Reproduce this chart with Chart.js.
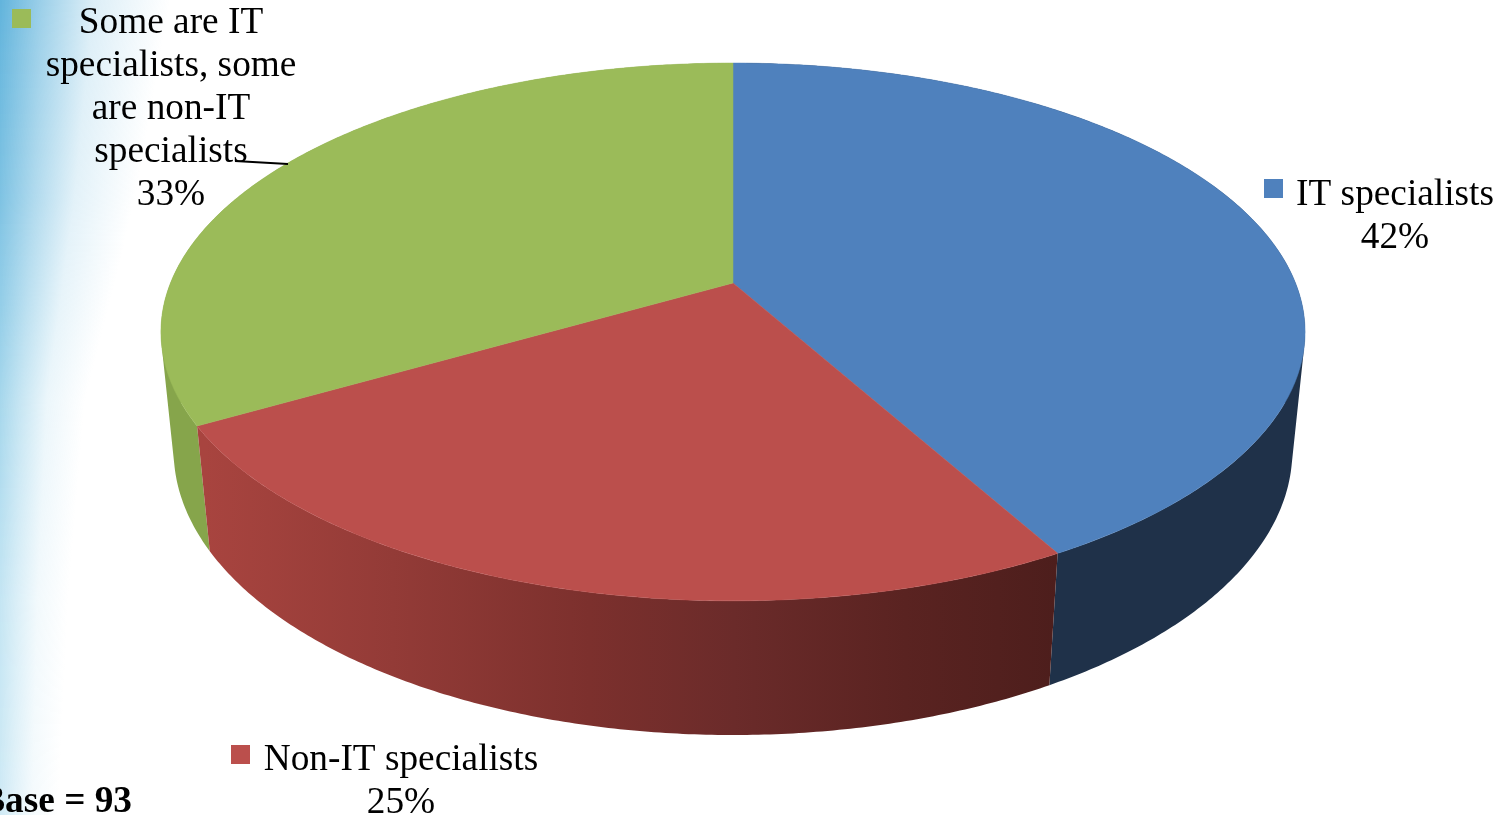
<!DOCTYPE html>
<html>
<head>
<meta charset="utf-8">
<title>IT specialists</title>
<script src="https://cdn.jsdelivr.net/npm/chart.js@4/dist/chart.umd.min.js"></script>
<style>
    html, body { margin: 0; padding: 0; background: #fff; overflow: hidden; }
    canvas { position: absolute; left: 0; top: 0; }
</style>
</head>
<body>
<canvas id="pieChart" width="1508" height="815"></canvas>
<script>
const categories = ['IT specialists', 'Non-IT specialists', 'Some are IT specialists, some are non-IT specialists'];
const counts = [39, 23, 31];
const baseLabel = 'Base = 93';
const labelLines = [['IT specialists'], ['Non-IT specialists'], ['Some are IT', 'specialists, some', 'are non-IT', 'specialists']];
const topColors = ['#4f81bd', '#bb4f4c', '#9bbb59'];

const total = counts.reduce((a, b) => a + b, 0);

// perspective of the disc, fitted to the picture
const apexX = 733, apexY = 283;
const radX = 562.5, radY = 260, tilt = 0.182;
const wallDrop = 119.7, wallTilt = 0.022;

function project(theta, down) {
    const u = Math.sin(theta), v = Math.cos(theta);
    const w = 1 + tilt * v + (down ? wallTilt : 0);
    return {
        x: apexX + radX * u / w,
        y: apexY + (-radY * v + (down ? wallDrop : 0)) / w
    };
}

function wallPaint(ctx, i) {
    if (i === 0) return '#1f3149';
    if (i === 2) return '#86a54b';
    const g = ctx.createLinearGradient(205, 0, 1058, 0);
    g.addColorStop(0, '#a8443f');
    g.addColorStop(0.22, '#933b37');
    g.addColorStop(0.45, '#7c302d');
    g.addColorStop(0.62, '#6b2b2a');
    g.addColorStop(0.82, '#5a2321');
    g.addColorStop(1, '#4d1e1c');
    return g;
}

// template backdrop on the left edge: y, fade width, edge colour
const bandRows = [
    [0, 170, 98, 180, 220],
    [200, 135, 127, 195, 227],
    [400, 85, 166, 215, 236],
    [600, 68, 196, 229, 243],
    [815, 58, 207, 234, 245]
];

function drawBackdrop(ctx) {
    for (let y = 0; y < 815; y += 2) {
        let s = 0;
        while (s < bandRows.length - 2 && y > bandRows[s + 1][0]) s++;
        const a = bandRows[s], b = bandRows[s + 1];
        const f = (y - a[0]) / (b[0] - a[0]);
        const m = k => a[k] + (b[k] - a[k]) * f;
        const rgb = `${Math.round(m(2))},${Math.round(m(3))},${Math.round(m(4))}`;
        const g = ctx.createLinearGradient(0, 0, m(1), 0);
        g.addColorStop(0, `rgba(${rgb},1)`);
        g.addColorStop(0.25, `rgba(${rgb},0.62)`);
        g.addColorStop(0.55, `rgba(${rgb},0.22)`);
        g.addColorStop(1, `rgba(${rgb},0)`);
        ctx.fillStyle = g;
        ctx.fillRect(0, y, m(1), 2);
    }
}

const perspectivePie = {
    id: 'perspectivePie',
    beforeDraw(chart) {
        drawBackdrop(chart.ctx);
    },
    beforeDatasetDraw(chart, args) {
        const ctx = chart.ctx;
        const arcs = chart.getDatasetMeta(args.index).data;
        const step = Math.PI / 360;
        ctx.save();
        // side wall, the red slice last because it is in front
        [0, 2, 1].forEach(i => {
            const a0 = arcs[i].startAngle + Math.PI / 2, a1 = arcs[i].endAngle + Math.PI / 2;
            const n = Math.ceil((a1 - a0) / step);
            ctx.fillStyle = wallPaint(ctx, i);
            ctx.beginPath();
            for (let k = 0; k < n; k++) {
                const t0 = a0 + (a1 - a0) * k / n, t1 = a0 + (a1 - a0) * (k + 1) / n;
                let q = [project(t0, false), project(t1, false), project(t1, true), project(t0, true)];
                // same winding for every quad so that the fill is their union
                let area = 0;
                q.forEach((p, j) => {
                    const r = q[(j + 1) % 4];
                    area += p.x * r.y - r.x * p.y;
                });
                if (area < 0) q = q.reverse();
                ctx.moveTo(q[0].x, q[0].y);
                ctx.lineTo(q[1].x, q[1].y);
                ctx.lineTo(q[2].x, q[2].y);
                ctx.lineTo(q[3].x, q[3].y);
                ctx.closePath();
            }
            ctx.fill();
        });
        // top face
        arcs.forEach(arc => {
            const a0 = arc.startAngle + Math.PI / 2, a1 = arc.endAngle + Math.PI / 2;
            ctx.fillStyle = ctx.strokeStyle = arc.options.backgroundColor;
            ctx.lineWidth = 0.5;
            ctx.beginPath();
            ctx.moveTo(apexX, apexY);
            for (let t = a0; t < a1; t += step) {
                const p = project(t, false);
                ctx.lineTo(p.x, p.y);
            }
            const e = project(a1, false);
            ctx.lineTo(e.x, e.y);
            ctx.closePath();
            ctx.fill();
            ctx.stroke();
        });
        ctx.restore();
        return false;
    },
    afterDraw(chart) {
        const ctx = chart.ctx;
        ctx.save();
        ctx.fillStyle = '#000';
        ctx.textBaseline = 'alphabetic';
        ctx.font = '37.3px "Liberation Serif"';
        ctx.textAlign = 'center';

        const places = [
            { x: 1395, y: 205, box: [1264, 179] },
            { x: 401, y: 770, box: [231, 745] },
            { x: 171, y: 33, box: [12, 9] }
        ];
        labelLines.forEach((lines, i) => {
            const p = places[i];
            const pct = Math.round(counts[i] / total * 100) + '%';
            lines.concat(pct).forEach((line, n) => ctx.fillText(line, p.x, p.y + n * 43));
            ctx.save();
            ctx.fillStyle = topColors[i];
            ctx.fillRect(p.box[0], p.box[1], 19, 19);
            ctx.restore();
        });

        // leader line of the green slice
        ctx.strokeStyle = '#000';
        ctx.lineWidth = 2;
        ctx.beginPath();
        ctx.moveTo(235, 161);
        ctx.lineTo(288, 164);
        ctx.stroke();

        ctx.font = 'bold 37.3px "Liberation Serif"';
        ctx.textAlign = 'right';
        ctx.fillText(baseLabel, 132, 812);
        ctx.restore();
    }
};

new Chart(document.getElementById('pieChart').getContext('2d'), {
    type: 'pie',
    plugins: [perspectivePie],
    data: {
        labels: categories,
        datasets: [{
            data: counts,
            backgroundColor: topColors,
            borderWidth: 0
        }]
    },
    options: {
        responsive: false,
        animation: false,
        plugins: {
            legend: { display: false },
            tooltip: { enabled: false }
        }
    }
});
</script>
</body>
</html>
